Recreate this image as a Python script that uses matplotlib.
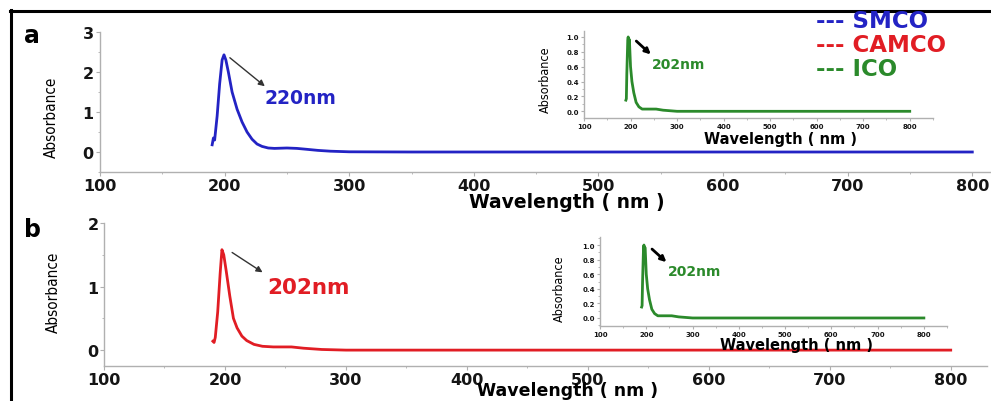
import matplotlib.pyplot as plt
from matplotlib.lines import Line2D
from matplotlib.ticker import MultipleLocator

# ---- data (wavelength nm, absorbance) ----
smco_wl = [190, 191, 192, 194, 196, 198, 199.5, 201, 203, 206, 210, 214, 218, 222,
           226, 230, 235, 240, 250, 258, 265, 275, 285, 300, 350, 800]
smco_abs = [0.18, 0.35, 0.30, 0.90, 1.70, 2.30, 2.43, 2.30, 2.00, 1.50, 1.07, 0.75,
            0.50, 0.32, 0.20, 0.14, 0.10, 0.09, 0.10, 0.09, 0.07, 0.04, 0.02, 0.005, 0.0, 0.0]

camco_wl = [190, 191, 192, 194, 196, 197.5, 199, 201, 204, 207, 210, 214, 218, 224,
            231, 240, 255, 265, 280, 300, 800]
camco_abs = [0.14, 0.12, 0.20, 0.60, 1.20, 1.58, 1.50, 1.25, 0.85, 0.50, 0.35, 0.22,
             0.15, 0.09, 0.06, 0.05, 0.05, 0.03, 0.01, 0.0, 0.0]

ico_wl = [190, 191, 192, 194, 195, 196, 197, 198, 200, 203, 207, 212, 218, 225,
          240, 255, 270, 290, 300, 800]
ico_abs = [0.15, 0.17, 0.50, 0.95, 1.00, 0.85, 0.97, 0.90, 0.60, 0.40, 0.25, 0.12,
           0.06, 0.03, 0.03, 0.03, 0.015, 0.005, 0.0, 0.0]

legend_names = ["SMCO", "CAMCO", "ICO"]
main_xticks = [100, 200, 300, 400, 500, 600, 700, 800]
inset_xticks = [100, 200, 300, 400, 500, 600, 700, 800]
inset_yticks = [0.0, 0.2, 0.4, 0.6, 0.8, 1.0]

BLUE = '#2323c4'
RED = '#e11d24'
GREEN = '#2b8a2b'
SPINE = '#b0b0b0'

W, H = 991, 402
fig = plt.figure(figsize=(W / 100, H / 100), dpi=100)

def fx(px):
    return px / W

def fy(py):
    return 1 - py / H

def box(left, top, right, bottom):
    return [fx(left), fy(bottom), fx(right) - fx(left), fy(top) - fy(bottom)]

def style(ax, size, minor_x, minor_y, tlen, pad):
    for s in ['top', 'right']:
        ax.spines[s].set_visible(False)
    for s in ['left', 'bottom']:
        ax.spines[s].set_color(SPINE)
        ax.spines[s].set_linewidth(1.0)
    ax.tick_params(which='both', colors=SPINE, labelcolor='#151515', labelsize=size,
                   direction='out', pad=pad)
    ax.tick_params(which='major', length=tlen)
    ax.tick_params(which='minor', length=tlen * 0.6)
    ax.xaxis.set_minor_locator(MultipleLocator(minor_x))
    ax.yaxis.set_minor_locator(MultipleLocator(minor_y))
    for lab in ax.get_xticklabels() + ax.get_yticklabels():
        lab.set_fontweight('bold')

def absorb(px, py, size):
    fig.text(fx(px), fy(py), 'Absorbance', family='DejaVu Sans', stretch='condensed',
             fontsize=size, rotation=90, ha='center', va='center')

# ---------------- panel a ----------------
ax1 = fig.add_axes(box(100, 33, 991, 173))
ax1.plot(smco_wl, smco_abs, color=BLUE, lw=2)
ax1.set_xlim(100, 815)
ax1.set_ylim(-0.5, 3)
ax1.set_xticks(main_xticks)
ax1.set_yticks([0, 1, 2, 3])
style(ax1, 11.5, 50, 0.5, 3, 1.5)
ax1.annotate('', xy=(234, 1.6), xytext=(202.5, 2.4),
             arrowprops=dict(arrowstyle='-|>', color='#333333', lw=1, mutation_scale=9))
ax1.text(260.5, 1.35, '220nm', color=BLUE, fontsize=13.5, fontweight='bold',
         ha='center', va='center')

# ---------------- panel b ----------------
ax2 = fig.add_axes(box(104, 224, 987, 367))
ax2.plot(camco_wl, camco_abs, color=RED, lw=2)
ax2.set_xlim(100, 830)
ax2.set_ylim(-0.25, 2)
ax2.set_xticks(main_xticks)
ax2.set_yticks([0, 1, 2])
style(ax2, 11.5, 50, 0.5, 3, 1.0)
ax2.annotate('', xy=(233, 1.2), xytext=(204, 1.56),
             arrowprops=dict(arrowstyle='-|>', color='#333333', lw=1, mutation_scale=9))
ax2.text(269, 1.0, '202nm', color=RED, fontsize=15.5, fontweight='bold',
         ha='center', va='center')

# ---------------- insets ----------------
inset_boxes = [box(584, 32, 933, 119), box(600, 238, 947, 327)]
inset_ylims = [(-0.09, 1.08), (-0.11, 1.11)]
for b, yl in zip(inset_boxes, inset_ylims):
    ax = fig.add_axes(b)
    ax.plot(ico_wl, ico_abs, color=GREEN, lw=2)
    ax.set_xlim(100, 850)
    ax.set_ylim(*yl)
    ax.set_xticks(inset_xticks)
    ax.set_yticks(inset_yticks)
    ax.set_xticklabels([str(v) for v in inset_xticks])
    ax.set_yticklabels(['%.1f' % v for v in inset_yticks])
    style(ax, 5, 50, 0.1, 2.5, 1.0)
    ax.annotate('', xy=(248, 0.74), xytext=(208, 0.97),
                arrowprops=dict(arrowstyle='-|>', color='black', lw=2, mutation_scale=8))
    ax.text(246, 0.64, '202nm', color=GREEN, fontsize=10, fontweight='bold',
            ha='left', va='center')

# ---------------- axis titles ----------------
fig.text(fx(567), fy(203), 'Wavelength ( nm )', fontsize=13.5, fontweight='bold',
         ha='center', va='center')
fig.text(fx(568), fy(391), 'Wavelength ( nm )', fontsize=12.5, fontweight='bold',
         ha='center', va='center')
fig.text(fx(780), fy(140), 'Wavelength ( nm )', fontsize=10.5, fontweight='bold',
         ha='center', va='center')
fig.text(fx(796), fy(346), 'Wavelength ( nm )', fontsize=10.5, fontweight='bold',
         ha='center', va='center')
absorb(51, 117, 11)
absorb(53, 292, 11)
absorb(545, 80, 9)
absorb(559, 289, 9)

# panel letters
fig.text(fx(32), fy(36), 'a', fontsize=17, fontweight='bold', ha='center', va='center')
fig.text(fx(32), fy(230), 'b', fontsize=17, fontweight='bold', ha='center', va='center')

# legend written as coloured text
for name, col, py in zip(legend_names, [BLUE, RED, GREEN], [22, 46, 70]):
    fig.text(fx(816), fy(py), '--- ' + name, color=col, fontsize=16.5, fontweight='bold',
             ha='left', va='center')

# black frame on top and left
fig.add_artist(Line2D([fx(10), 1.0], [fy(12), fy(12)], color='black', lw=2.2))
fig.add_artist(Line2D([fx(11), fx(11)], [fy(11), 0.0], color='black', lw=2.2))

fig.savefig('out.png', dpi=100)
